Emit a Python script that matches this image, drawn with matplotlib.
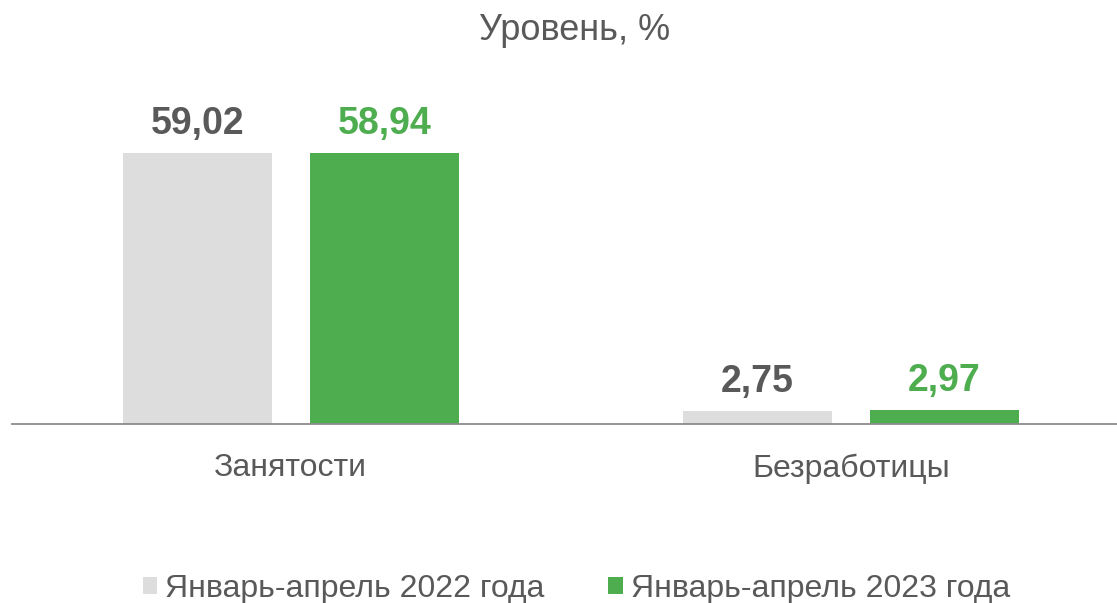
import numpy as np
import matplotlib
matplotlib.use('Agg')
import matplotlib.pyplot as plt
from matplotlib.patches import Patch

plt.rcParams['font.family'] = ['Liberation Sans', 'DejaVu Sans']

# data
categories = ['Занятости', 'Безработицы']
series_names = ['Январь-апрель 2022 года', 'Январь-апрель 2023 года']
values_2022 = [59.02, 2.75]
values_2023 = [58.94, 2.97]
colors = ['#DDDDDD', '#4EAD4F']
label_colors = ['#595959', '#4EAD4F']
text_gray = '#595959'

fig = plt.figure(figsize=(11.17, 6.03), dpi=100)
# axes in pixel terms: left 12, right 1117, bottom at y=424, top at y=60
ax = fig.add_axes([12 / 1117, 179 / 603, 1105 / 1117, 364 / 603])

x = np.arange(len(categories))
width = 0.266
offset = 0.167

for i, (vals, c, lc) in enumerate(zip([values_2022, values_2023], colors, label_colors)):
    pos = x + (offset if i else -offset)
    ax.bar(pos, vals, width=width, color=c, zorder=2)
    for px, v in zip(pos, vals):
        ax.text(px, v + 2.4, f"{v:.2f}".replace('.', ','), ha='center', va='bottom',
                fontsize=27, fontweight='bold', color=lc)

ax.set_xlim(-0.498, 1.475)
ax.set_ylim(0, 79.3)
for s in ['top', 'right', 'left']:
    ax.spines[s].set_visible(False)
ax.spines['bottom'].set_color('#8C8C8C')
ax.spines['bottom'].set_linewidth(1.3)
ax.set_yticks([])
ax.set_xticks(x)
ax.set_xticklabels(categories, fontsize=23, color=text_gray)
ax.tick_params(axis='x', length=0, pad=21)

fig.text(0.514, 1 - 31 / 603, 'Уровень, %', ha='center', va='center', fontsize=26, color=text_gray)

handles = [Patch(facecolor=c, edgecolor='none') for c in colors]
fig.legend(handles, series_names, loc='center', bbox_to_anchor=(0.516, 1 - 589 / 603),
           ncol=2, frameon=False, fontsize=23, labelcolor=text_gray,
           handlelength=0.45, handleheight=0.45, handletextpad=0.25, columnspacing=2.0)

plt.savefig('out.png', dpi=100)
